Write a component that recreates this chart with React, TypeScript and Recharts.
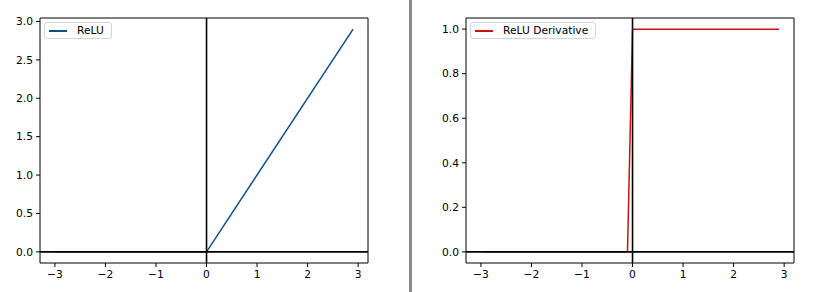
import {
  Line,
  LineChart,
  ReferenceArea,
  ReferenceLine,
  XAxis,
  YAxis,
} from "recharts";

// ReLU breakpoints
const RELU_X = [-3, 0, 2.9];
const RELU_Y = [0, 0, 2.9];

// derivative breakpoints (step sampled at 0.1)
const DERIV_X = [-3, -0.1, 0, 2.9];
const DERIV_Y = [0, 0, 1, 1];

const X_TICKS = [-3, -2, -1, 0, 1, 2, 3];
const RELU_TICKS = [0, 0.5, 1, 1.5, 2, 2.5, 3];
const DERIV_TICKS = [0, 0.2, 0.4, 0.6, 0.8, 1];

const X_DOMAIN: [number, number] = [-3.295, 3.195];
const RELU_DOMAIN: [number, number] = [-0.145, 3.045];
const DERIV_DOMAIN: [number, number] = [-0.05, 1.05];

const FONT = "DejaVu Sans, sans-serif";
const FS = 10.7;
const tick = { fontSize: FS, fill: "#000", fontFamily: FONT };

const fmtX = (v: number) => (v < 0 ? `\u2212${Math.abs(v)}` : `${v}`);
const fmtY = (v: number) => v.toFixed(1);

function LegendBox({ label, color, left }: { label: string; color: string; left: number }) {
  return (
    <div
      style={{
        position: "absolute",
        left,
        top: 22,
        display: "flex",
        alignItems: "center",
        background: "#fff",
        border: "1px solid #d4d4d4",
        borderRadius: 3,
        height: 17,
        padding: "0 7px 0 4px",
        fontFamily: FONT,
        fontSize: FS,
        color: "#000",
        boxSizing: "border-box",
      }}
    >
      <div style={{ width: 18, height: 2, background: color, marginRight: 10 }} />
      {label}
    </div>
  );
}

function Panel({
  xs,
  ys,
  color,
  label,
  yDomain,
  yTicks,
  yWidth,
  right,
}: {
  xs: number[];
  ys: number[];
  color: string;
  label: string;
  yDomain: [number, number];
  yTicks: number[];
  yWidth: number;
  right: number;
}) {
  const data = xs.map((x, i) => ({ x, y: ys[i] }));
  return (
    <div style={{ position: "relative", width: 410, height: 292 }}>
      <LineChart width={410} height={292} data={data} margin={{ top: 18, right, bottom: 0, left: 0 }}>
        <XAxis
          dataKey="x"
          type="number"
          domain={X_DOMAIN}
          allowDataOverflow
          ticks={X_TICKS}
          tickFormatter={fmtX}
          tick={tick}
          tickSize={4}
          tickMargin={3}
          tickLine={{ stroke: "#000" }}
          axisLine={false}
          height={29}
          interval={0}
        />
        <YAxis
          type="number"
          domain={yDomain}
          allowDataOverflow
          ticks={yTicks}
          tickFormatter={fmtY}
          tick={tick}
          tickSize={4}
          tickMargin={3}
          tickLine={{ stroke: "#000" }}
          axisLine={false}
          width={yWidth}
          interval={0}
        />
        <Line
          dataKey="y"
          stroke={color}
          strokeWidth={1.5}
          dot={false}
          activeDot={false}
          isAnimationActive={false}
        />
        <ReferenceLine y={0} stroke="#000" strokeWidth={1.6} />
        <ReferenceLine x={0} stroke="#000" strokeWidth={1.6} />
        <ReferenceArea
          x1={X_DOMAIN[0]}
          x2={X_DOMAIN[1]}
          y1={yDomain[0]}
          y2={yDomain[1]}
          fill="none"
          stroke="#000"
          strokeWidth={1}
          ifOverflow="visible"
        />
      </LineChart>
      <LegendBox label={label} color={color} left={yWidth + 4} />
    </div>
  );
}

export default function App() {
  return (
    <div
      style={{
        position: "absolute",
        left: 0,
        top: 0,
        width: 825,
        height: 292,
        background: "#fff",
      }}
    >
      <div style={{ position: "absolute", left: 0, top: 0 }}>
        <Panel
          xs={RELU_X}
          ys={RELU_Y}
          color="#0b4f8c"
          label="ReLU"
          yDomain={RELU_DOMAIN}
          yTicks={RELU_TICKS}
          yWidth={40}
          right={42}
        />
      </div>
      <div
        style={{
          position: "absolute",
          left: 409,
          top: 0,
          width: 3,
          height: 292,
          background: "#8a8a8a",
        }}
      />
      <div style={{ position: "absolute", left: 415, top: 0 }}>
        <Panel
          xs={DERIV_X}
          ys={DERIV_Y}
          color="#cc1111"
          label="ReLU Derivative"
          yDomain={DERIV_DOMAIN}
          yTicks={DERIV_TICKS}
          yWidth={51}
          right={31}
        />
      </div>
    </div>
  );
}
